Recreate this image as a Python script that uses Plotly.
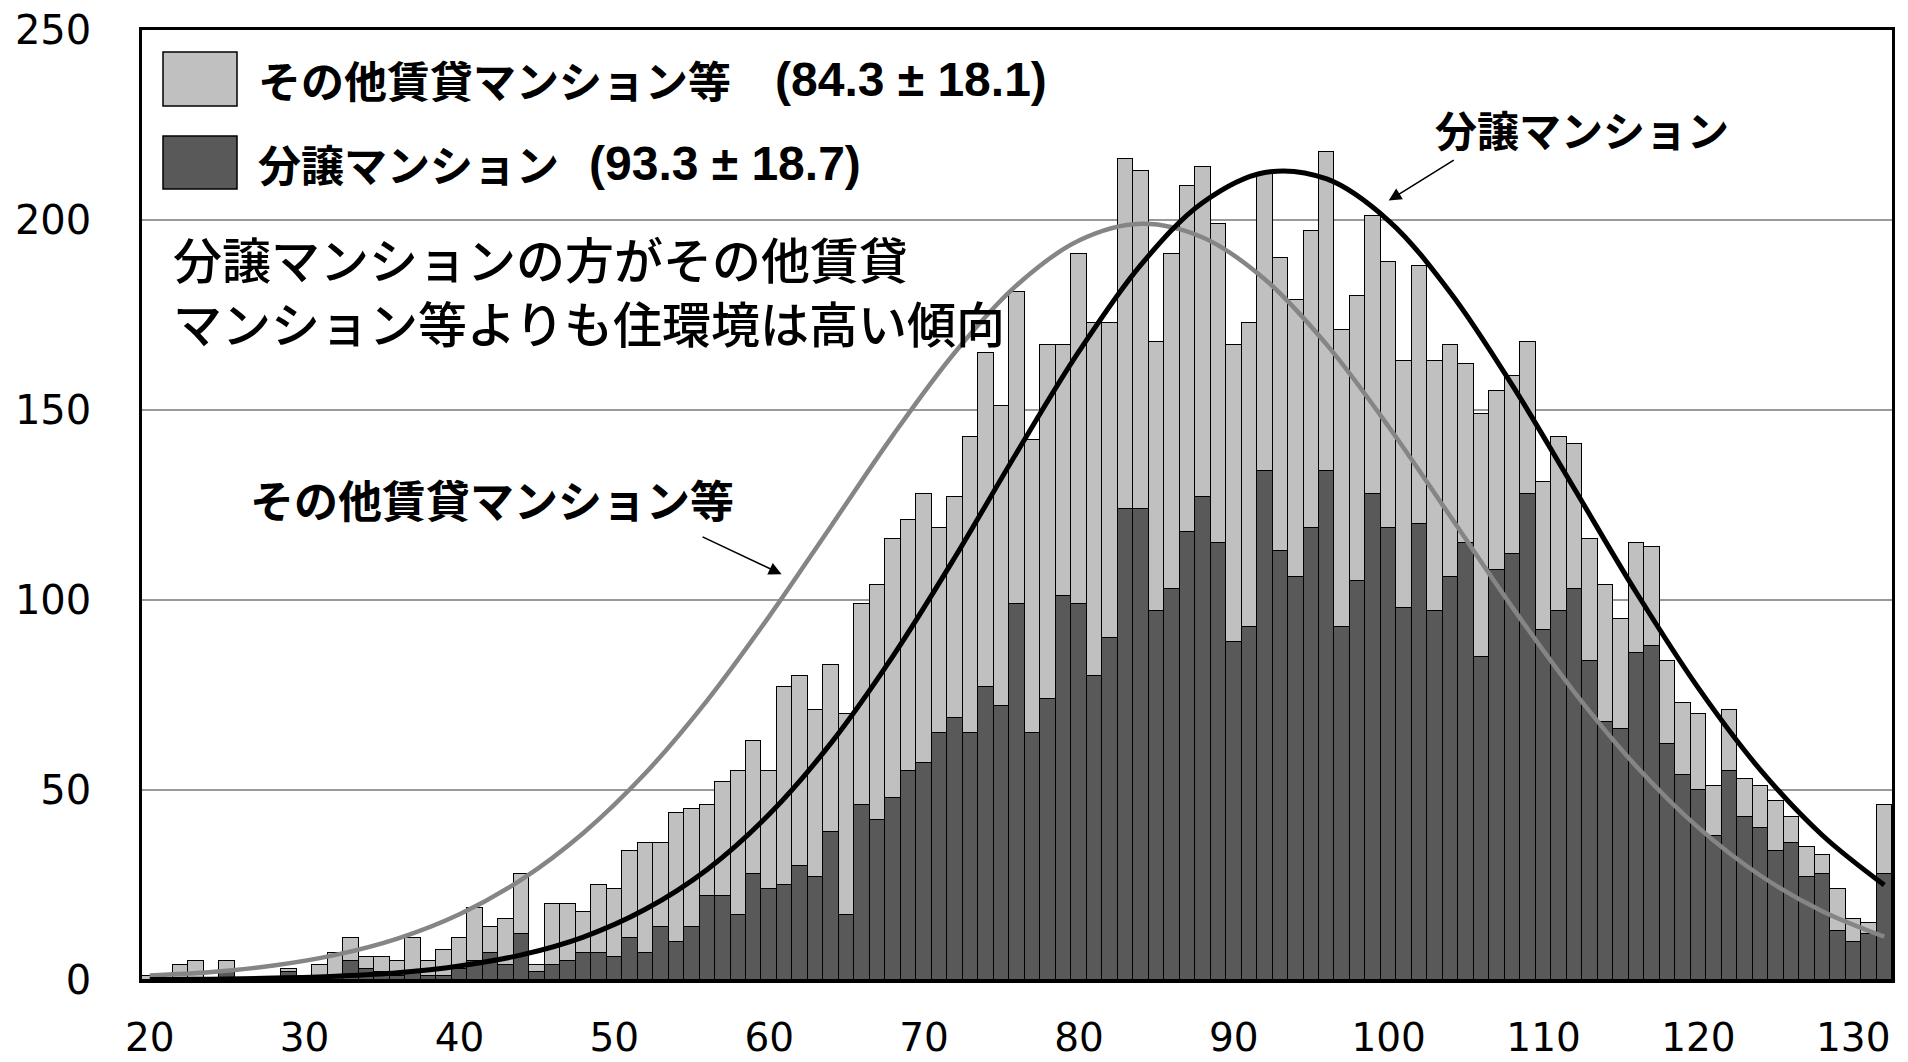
import plotly.graph_objects as go

# ---- data ----
scores = list(range(20, 133))

# 分譲マンション (dark, bottom of stack)
bunjo = [0, 0, 0, 0, 0, 2, 0, 0, 0, 2,
         0, 1, 1, 5, 3, 2, 1, 2, 1, 1,
         3, 5, 7, 4, 12, 2, 4, 5, 7, 7,
         6, 11, 7, 14, 10, 14, 22, 22, 17, 28,
         24, 25, 30, 27, 39, 17, 46, 42, 48, 55,
         57, 65, 69, 65, 77, 72, 99, 65, 74, 101,
         99, 80, 90, 124, 124, 97, 103, 118, 127, 115,
         89, 93, 134, 113, 106, 119, 134, 93, 105, 128,
         119, 98, 120, 97, 106, 115, 85, 108, 112, 128,
         92, 97, 103, 84, 68, 66, 86, 88, 62, 54,
         50, 38, 55, 43, 40, 34, 36, 27, 28, 13,
         10, 12, 28]

# その他賃貸マンション等 (light, stacked on top)
sonota = [1, 0, 4, 5, 0, 3, 0, 0, 0, 1,
          0, 3, 6, 6, 3, 4, 4, 9, 4, 7,
          8, 14, 7, 12, 16, 2, 16, 15, 11, 18,
          18, 23, 29, 22, 34, 31, 24, 30, 38, 35,
          31, 52, 50, 44, 44, 53, 53, 62, 68, 66,
          71, 54, 58, 78, 88, 79, 82, 77, 93, 66,
          92, 93, 83, 92, 89, 71, 88, 91, 87, 84,
          78, 80, 78, 77, 73, 78, 84, 78, 75, 73,
          70, 65, 68, 66, 61, 47, 64, 47, 47, 40,
          39, 46, 38, 32, 36, 29, 29, 26, 22, 19,
          20, 13, 16, 10, 11, 13, 7, 8, 5, 11,
          6, 3, 18]

# fitted curves
curve_x = [20, 24, 28, 32, 36, 40, 44, 48, 52, 56, 60, 64, 68, 72, 76,
           80, 84, 88, 92, 96, 100, 104, 108, 112, 116, 120, 124, 128, 132]
curve_bunjo = [0.1, 0.2, 0.5, 1.0, 1.9, 3.7, 6.6, 11.3, 18.6, 29.1, 43.6,
               62.4, 85.3, 111.3, 138.9, 165.4, 188.2, 204.6, 212.5, 210.8,
               199.8, 180.8, 156.4, 129.2, 101.9, 76.8, 55.3, 38.1, 25.0]
curve_sonota = [1.2, 2.1, 3.8, 6.6, 10.9, 17.3, 26.4, 38.7, 54.4, 73.6, 95.7,
                119.5, 143.4, 165.2, 182.9, 194.6, 199.0, 195.4, 184.4, 167.2,
                145.6, 121.9, 98.0, 75.7, 56.2, 40.1, 27.5, 18.1, 11.4]

x_ticks = [20, 30, 40, 50, 60, 70, 80, 90, 100, 110, 120, 130]
y_ticks = [0, 50, 100, 150, 200, 250]

legend_names = ["その他賃貸マンション等", "分譲マンション"]
legend_stats = ["(84.3 ± 18.1)", "(93.3 ± 18.7)"]
message_lines = ["分譲マンションの方がその他賃貸", "マンション等よりも住環境は高い傾向"]

LIGHT = "#c0c0c0"
DARK = "#595959"
JP = "Noto Sans CJK JP"

fig = go.Figure()
fig.add_trace(go.Bar(x=scores, y=bunjo, name=legend_names[1],
                     marker=dict(color=DARK, line=dict(color="black", width=1.3))))
fig.add_trace(go.Bar(x=scores, y=sonota, name=legend_names[0],
                     marker=dict(color=LIGHT, line=dict(color="black", width=1.3))))
fig.add_trace(go.Scatter(x=curve_x, y=curve_sonota, mode="lines",
                         line=dict(color="#858585", width=4.5, shape="spline", smoothing=1.0)))
fig.add_trace(go.Scatter(x=curve_x, y=curve_bunjo, mode="lines",
                         line=dict(color="black", width=5, shape="spline", smoothing=1.0)))

fig.update_layout(
    width=1908, height=1062,
    margin=dict(l=142, r=16, t=30, b=82),
    barmode="stack", bargap=0,
    showlegend=False,
    plot_bgcolor="white", paper_bgcolor="white",
    font=dict(family="DejaVu Sans", color="black"),
)
fig.update_xaxes(range=[19.5, 132.5], tickvals=x_ticks, showgrid=False,
                 showline=True, linecolor="black", linewidth=2.5, mirror=True,
                 ticks="", tickfont=dict(size=39, family="DejaVu Sans", color="black"),
                 ticklabelstandoff=21, ticklabeloverflow="allow",
                 automargin=False, zeroline=False)
fig.update_yaxes(range=[0, 250], tickvals=y_ticks, showgrid=True,
                 gridcolor="#999999", gridwidth=1.5,
                 showline=True, linecolor="black", linewidth=2.5, mirror=True,
                 ticks="", tickfont=dict(size=40, family="DejaVu Sans", color="black"),
                 ticklabelstandoff=40, ticklabeloverflow="allow",
                 automargin=False, zeroline=False)

# ---- manual legend ----
def px2paper_x(px):
    return (px - 142) / 1750.0

def py2paper_y(py):
    return (980 - py) / 950.0

box_rows = [(52, 106, LIGHT, 79), (136, 189, DARK, 163)]
stat_x = [773, 587]
for i, (top, bot, col, cy) in enumerate(box_rows):
    fig.add_shape(type="rect", xref="paper", yref="paper",
                  x0=px2paper_x(163), x1=px2paper_x(237),
                  y0=py2paper_y(bot), y1=py2paper_y(top),
                  fillcolor=col, line=dict(color="black", width=1.5))
    fig.add_annotation(xref="paper", yref="paper", x=px2paper_x(256), y=py2paper_y(cy),
                       xanchor="left", yanchor="middle", showarrow=False,
                       text="<b>" + legend_names[i] + "</b>",
                       font=dict(family=JP, size=43, color="black"))
    fig.add_annotation(xref="paper", yref="paper", x=px2paper_x(stat_x[i]), y=py2paper_y(cy),
                       xanchor="left", yanchor="middle", showarrow=False,
                       text="<b>" + legend_stats[i] + "</b>",
                       font=dict(family="Liberation Sans", size=48, color="black"))

# ---- message (one two-line text) ----
fig.add_annotation(xref="paper", yref="paper", x=px2paper_x(171), y=py2paper_y(290),
                   xanchor="left", yanchor="middle", align="left", showarrow=False,
                   text="<br>".join(message_lines),
                   font=dict(family=JP, size=49, color="black", weight=500))

# ---- curve labels with arrows ----
fig.add_annotation(x=42.1, y=126.6, text="<b>その他賃貸マンション等</b>", showarrow=False,
                   font=dict(family=JP, size=44, color="black"))
fig.add_annotation(x=60.8, y=106.8, ax=55.6, ay=116.8, axref="x", ayref="y",
                   text="", showarrow=True, arrowhead=2, arrowsize=1.6,
                   arrowwidth=1.6, arrowcolor="black", standoff=0)
fig.add_annotation(x=112.5, y=224.2, text="<b>分譲マンション</b>", showarrow=False,
                   font=dict(family=JP, size=42, color="black"))
fig.add_annotation(x=100.0, y=205.1, ax=104.3, ay=216.0, axref="x", ayref="y",
                   text="", showarrow=True, arrowhead=2, arrowsize=1.6,
                   arrowwidth=1.6, arrowcolor="black", standoff=0)

fig.write_html("out.html", config={"displayModeBar": False},
               post_script="document.body.style.margin='0';document.body.style.overflow='hidden';")
